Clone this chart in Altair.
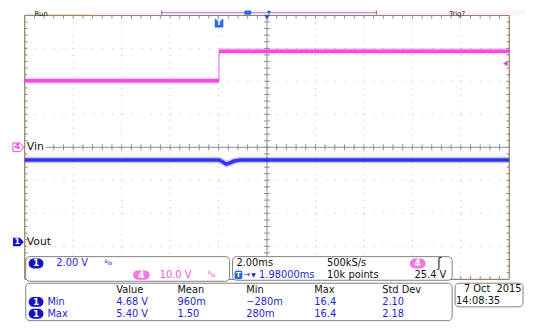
import altair as alt
import numpy as np
import pandas as pd

# ---------------- data read from the screen ----------------
# time in ms relative to the trigger point, amplitude in volts
vin_t = [-8.02, 0.0, 0.0, 11.98]
vin_v = [20.2, 20.2, 29.1, 29.1]
vin_part = ["before", "before", "after", "after"]

vout_t = [-8.02, 0.0, 0.12, 0.30, 0.45, 0.62, 0.90, 11.98]
vout_v = [4.97, 4.97, 4.88, 4.72, 4.80, 4.91, 4.97, 4.97]

trig_level = 25.4          # V (channel 4)
time_per_div = 2.0         # ms/div
trig_delay = 1.98          # ms
vin_vdiv, vin_pos = 10.0, 0.0     # V/div, ground position (div)
vout_vdiv, vout_pos = 2.0, -2.87

stat_headers = ["Value", "Mean", "Min", "Max", "Std Dev"]
min_row = ["4.68 V", "960m", "\u2212280m", "16.4", "2.10"]
max_row = ["5.40 V", "1.50", "280m", "16.4", "2.18"]

# ---------------- styling ----------------
MAG = "#ee3fe0"
MAG_TXT = "#e35fd6"
MAG_PILL = "#ef7be3"
BLUE = "#2222ee"
BLUE_TXT = "#1f1fd2"
BLUE_PILL = "#1414c4"
GRID = "#bdbdbd"
AXIS = "#868c96"
BORDER = "#9c8466"
FONT = "DejaVu Sans"

OX, OY = 25, 13  # page position of the graticule's top-left corner
W, H = 492, 268

T0 = trig_delay - 5 * time_per_div
T1 = trig_delay + 5 * time_per_div
xs = alt.Scale(domain=[T0, T1], nice=False, zero=False)
ys = alt.Scale(domain=[-4, 4], nice=False, zero=False)


def X(f="t"):
    return alt.X(f"{f}:Q", scale=xs, axis=None)


def Y(f="d"):
    return alt.Y(f"{f}:Q", scale=ys, axis=None)


layers = []

# ---------------- graticule ----------------
major_t = [T0 + time_per_div * k for k in range(1, 10) if k != 5]
major_d = [k for k in range(-3, 4) if k != 0]
layers.append(alt.Chart(pd.DataFrame({"t": major_t, "d": 4, "d2": -4}))
              .mark_rule(color=GRID, strokeWidth=1, strokeDash=[1, 5.7])
              .encode(x=X(), y=Y(), y2="d2"))
layers.append(alt.Chart(pd.DataFrame({"d": major_d, "t": T0, "t2": T1}))
              .mark_rule(color=GRID, strokeWidth=1, strokeDash=[1, 8.84])
              .encode(x=X(), x2="t2", y=Y()))
# centre axes
layers.append(alt.Chart(pd.DataFrame({"t": [trig_delay], "d": 4, "d2": -4}))
              .mark_rule(color=AXIS, strokeWidth=1).encode(x=X(), y=Y(), y2="d2"))
layers.append(alt.Chart(pd.DataFrame({"d": [0], "t": T0, "t2": T1}))
              .mark_rule(color=AXIS, strokeWidth=1).encode(x=X(), x2="t2", y=Y()))
minor_t = T0 + 0.2 * time_per_div * np.arange(1, 50)
minor_d = -4 + 0.2 * np.arange(1, 40)
tx = 0.06 * time_per_div
ticks_v = pd.concat([
    pd.DataFrame({"t": minor_t, "d": -0.09, "d2": 0.09}),
    pd.DataFrame({"t": minor_t, "d": 4.0, "d2": 3.9}),
    pd.DataFrame({"t": minor_t, "d": -4.0, "d2": -3.9}),
])
ticks_h = pd.concat([
    pd.DataFrame({"d": minor_d, "t": trig_delay - tx, "t2": trig_delay + tx}),
    pd.DataFrame({"d": minor_d, "t": T0, "t2": T0 + tx}),
    pd.DataFrame({"d": minor_d, "t": T1 - tx, "t2": T1}),
])
layers.append(alt.Chart(ticks_v).mark_rule(color=AXIS, strokeWidth=1)
              .encode(x=X(), y=Y(), y2="d2"))
layers.append(alt.Chart(ticks_h).mark_rule(color=AXIS, strokeWidth=1)
              .encode(x=X(), x2="t2", y=Y()))
# border
layers.append(alt.Chart(pd.DataFrame({"t": [T0, T1], "d": 4, "d2": -4}))
              .mark_rule(color=BORDER, strokeWidth=1.3).encode(x=X(), y=Y(), y2="d2"))
layers.append(alt.Chart(pd.DataFrame({"d": [4, -4], "t": T0, "t2": T1}))
              .mark_rule(color=BORDER, strokeWidth=1.3).encode(x=X(), x2="t2", y=Y()))

# ---------------- waveforms ----------------
vin_df = pd.DataFrame({"t": vin_t, "v": vin_v, "part": vin_part})
vin_base = alt.Chart(vin_df).transform_calculate(
    d=f"datum.v / {vin_vdiv} + {vin_pos}")
layers.append(vin_base.mark_line(color=MAG, strokeWidth=6.5, opacity=0.25)
              .encode(x=X(), y=Y(), detail="part:N"))
layers.append(vin_base.mark_line(color=MAG, strokeWidth=3.6, opacity=0.9)
              .encode(x=X(), y=Y(), detail="part:N"))
edge_df = pd.DataFrame({"t": [vin_t[1]], "v": [vin_v[1]], "v2": [vin_v[2]]})
layers.append(alt.Chart(edge_df).transform_calculate(
    d=f"datum.v / {vin_vdiv} + {vin_pos}", d2=f"datum.v2 / {vin_vdiv} + {vin_pos}")
    .mark_rule(color=MAG, strokeWidth=1.2, opacity=0.7).encode(x=X(), y=Y(), y2="d2"))

vout_df = pd.DataFrame({"t": vout_t, "v": vout_v})
vout_base = alt.Chart(vout_df).transform_calculate(
    d=f"datum.v / {vout_vdiv} + {vout_pos}")
layers.append(vout_base.mark_line(color=BLUE, strokeWidth=6.5, opacity=0.25)
              .encode(x=X(), y=Y()))
layers.append(vout_base.mark_line(color=BLUE, strokeWidth=3.6, opacity=0.9)
              .encode(x=X(), y=Y()))

# ---------------- screen markers ----------------
one = pd.DataFrame({"k": [0]})


def text(s, xp, yp, color="#111111", size=10, align="left", weight="normal",
         baseline="middle"):
    return (alt.Chart(one)
            .mark_text(text=s, align=align, baseline=baseline, fontSize=size,
                       font=FONT, color=color, fontWeight=weight)
            .encode(x=alt.value(xp - OX), y=alt.value(yp - OY)))


def box(x1, y1, x2, y2, fill="white", stroke="#7f7f7f", r=4, sw=1):
    return (alt.Chart(one)
            .mark_rect(fill=fill, stroke=stroke, strokeWidth=sw, cornerRadius=r)
            .encode(x=alt.value(x1 - OX), x2=alt.value(x2 - OX),
                    y=alt.value(y1 - OY), y2=alt.value(y2 - OY)))


def fillbox(x1, y1, x2, y2, fill, r=0):
    return (alt.Chart(one).mark_rect(fill=fill, cornerRadius=r)
            .encode(x=alt.value(x1 - OX), x2=alt.value(x2 - OX),
                    y=alt.value(y1 - OY), y2=alt.value(y2 - OY)))


GND = "M -1 -0.8 L 0.3 -0.8 L 1 0 L 0.3 0.8 L -1 0.8 Z"

# trigger level marker (right edge)
layers.append(alt.Chart(pd.DataFrame({"t": [T1], "v": [trig_level]}))
              .transform_calculate(d=f"datum.v / {vin_vdiv} + {vin_pos}")
              .mark_point(shape="triangle-left", filled=True, color=MAG, size=30,
                          opacity=1, xOffset=-4)
              .encode(x=X(), y=Y()))
# trigger position marker
layers.append(alt.Chart(pd.DataFrame({"t": [0.0]}))
              .mark_point(shape="square", filled=True, color="#2a6be0", size=75, opacity=1)
              .encode(x=X(), y=alt.value(21 - OY)))
layers.append(alt.Chart(pd.DataFrame({"t": [0.0]}))
              .mark_text(text="T", color="white", fontSize=8, fontWeight="bold", font=FONT,
                         baseline="middle")
              .encode(x=X(), y=alt.value(21 - OY)))
# expansion point marker
layers.append(alt.Chart(pd.DataFrame({"t": [trig_delay]}))
              .mark_point(shape="triangle-down", filled=True, color="#2a4fd8", size=45, opacity=1)
              .encode(x=X(), y=alt.value(14.5 - OY)))

# channel ground markers
gnd4 = pd.DataFrame({"d": [vin_pos]})
gnd1 = pd.DataFrame({"d": [vout_pos]})
layers.append(alt.Chart(gnd4).mark_point(shape=GND, size=121, fill="white", stroke=MAG,
                                         strokeWidth=1, opacity=1, fillOpacity=1)
              .encode(x=alt.value(18.5 - OX), y=Y()))
layers.append(alt.Chart(gnd4).mark_text(text="4", color=MAG, fontSize=8, font=FONT,
                                        fontWeight="bold", baseline="middle")
              .encode(x=alt.value(17.5 - OX), y=Y()))
layers.append(alt.Chart(gnd1).mark_point(shape=GND, size=121, filled=True, color=BLUE_PILL,
                                         opacity=1)
              .encode(x=alt.value(18.5 - OX), y=Y()))
layers.append(alt.Chart(gnd1).mark_text(text="1", color="white", fontSize=8, font=FONT,
                                        fontWeight="bold", baseline="middle")
              .encode(x=alt.value(17.5 - OX), y=Y()))
layers.append(fillbox(26, 141, 46, 152, "white"))
layers.append(text("Vin", 27, 146.5, size=11))
layers.append(text("Vout", 27, 243, size=11))

# ---------------- top status bar (squeezed into the visible strip) ----------------
layers.append(fillbox(92, 8, 534, 12.4, "#fcf2fa"))
layers.append(text("Run", 35, 8, color="#222222", size=7, baseline="top"))
layers.append(text("Trig?", 456, 8, color="#222222", size=7, baseline="top"))
layers.append(fillbox(164, 9.6, 382, 10.8, "#9f9ff0"))
layers.append(fillbox(163.5, 8, 164.8, 12.4, "#8a8a8a"))
layers.append(fillbox(381.5, 8, 382.8, 12.4, "#8a8a8a"))
layers.append(fillbox(248, 8, 255, 12.4, "#2a6be0", r=1))
layers.append(text("\u25bc", 273, 9.5, color="#2a4fd8", size=5, align="center"))

# ---------------- info panels ----------------
layers.append(box(26, 258, 233, 283))
layers.append(box(236, 258, 459, 282))
layers.append(box(26, 285, 459, 323))
layers.append(box(462, 285, 531, 309))

# channel 1 / channel 4 settings
layers.append(fillbox(29, 260, 44, 270, BLUE_PILL, r=5))
layers.append(text("1", 36.5, 265, color="white", size=9, align="center", weight="bold"))
layers.append(text("2.00 V", 57, 265, color=BLUE_TXT))
layers.append(text("B", 106, 262, color=BLUE_TXT, size=5))
layers.append(text("W", 109, 265, color=BLUE_TXT, size=5))
layers.append(fillbox(135, 272, 152, 281.5, MAG_PILL, r=5))
layers.append(text("4", 143.5, 276.7, color="white", size=9, align="center", weight="bold"))
layers.append(text("10.0 V", 162, 276.7, color=MAG_TXT))
layers.append(text("B", 211, 274, color=MAG_TXT, size=5))
layers.append(text("W", 214, 277, color=MAG_TXT, size=5))

# timebase / trigger
layers.append(text("2.00ms", 240, 265))
layers.append(text("500kS/s", 332, 265))
layers.append(fillbox(416, 260, 432, 270, MAG_PILL, r=5))
layers.append(text("4", 424, 265, color="white", size=9, align="center", weight="bold"))
layers.append(text("\u0283", 446, 265, size=12, align="center"))
layers.append(fillbox(238, 272, 246, 281, "#2a6be0", r=2))
layers.append(text("T", 242, 276.7, color="white", size=7, align="center", weight="bold"))
layers.append(text("\u2192", 247, 276.7, color=BLUE_TXT, size=8))
layers.append(text("\u25bc", 255, 277, color=BLUE_TXT, size=6))
layers.append(text(f"{trig_delay:.5f}ms", 263, 276.7, color=BLUE_TXT))
layers.append(text("10k points", 332, 276.7))
layers.append(text(f"{trig_level:.1f} V", 453, 276.7, align="right"))

# measurement table
col_x = [118, 180, 250, 319, 388]
for cx, h in zip(col_x, stat_headers):
    layers.append(text(h, cx, 291.7))
for row_y, name, row in [(304, "Min", min_row), (316, "Max", max_row)]:
    layers.append(fillbox(29, row_y - 5, 44, row_y + 5, BLUE_PILL, r=5))
    layers.append(text("1", 36.5, row_y, color="white", size=9, align="center", weight="bold"))
    layers.append(text(name, 48, row_y, color=BLUE_TXT))
    for cx, val in zip(col_x, row):
        layers.append(text(val, cx, row_y, color=BLUE_TXT))

# date / time
layers.append(text("7 Oct\u00a0 2015", 471, 290.7))
layers.append(text("14:08:35", 463, 302.7))

chart = (alt.layer(*layers)
         .properties(width=W, height=H, background="white",
                     padding={"left": OX - 8, "top": OY - 8, "right": 17, "bottom": 47},
                     autosize=alt.AutoSizeParams(type="none"))
         .configure_view(stroke=None))

chart.save("out.html", embed_options={"renderer": "svg", "actions": False})
